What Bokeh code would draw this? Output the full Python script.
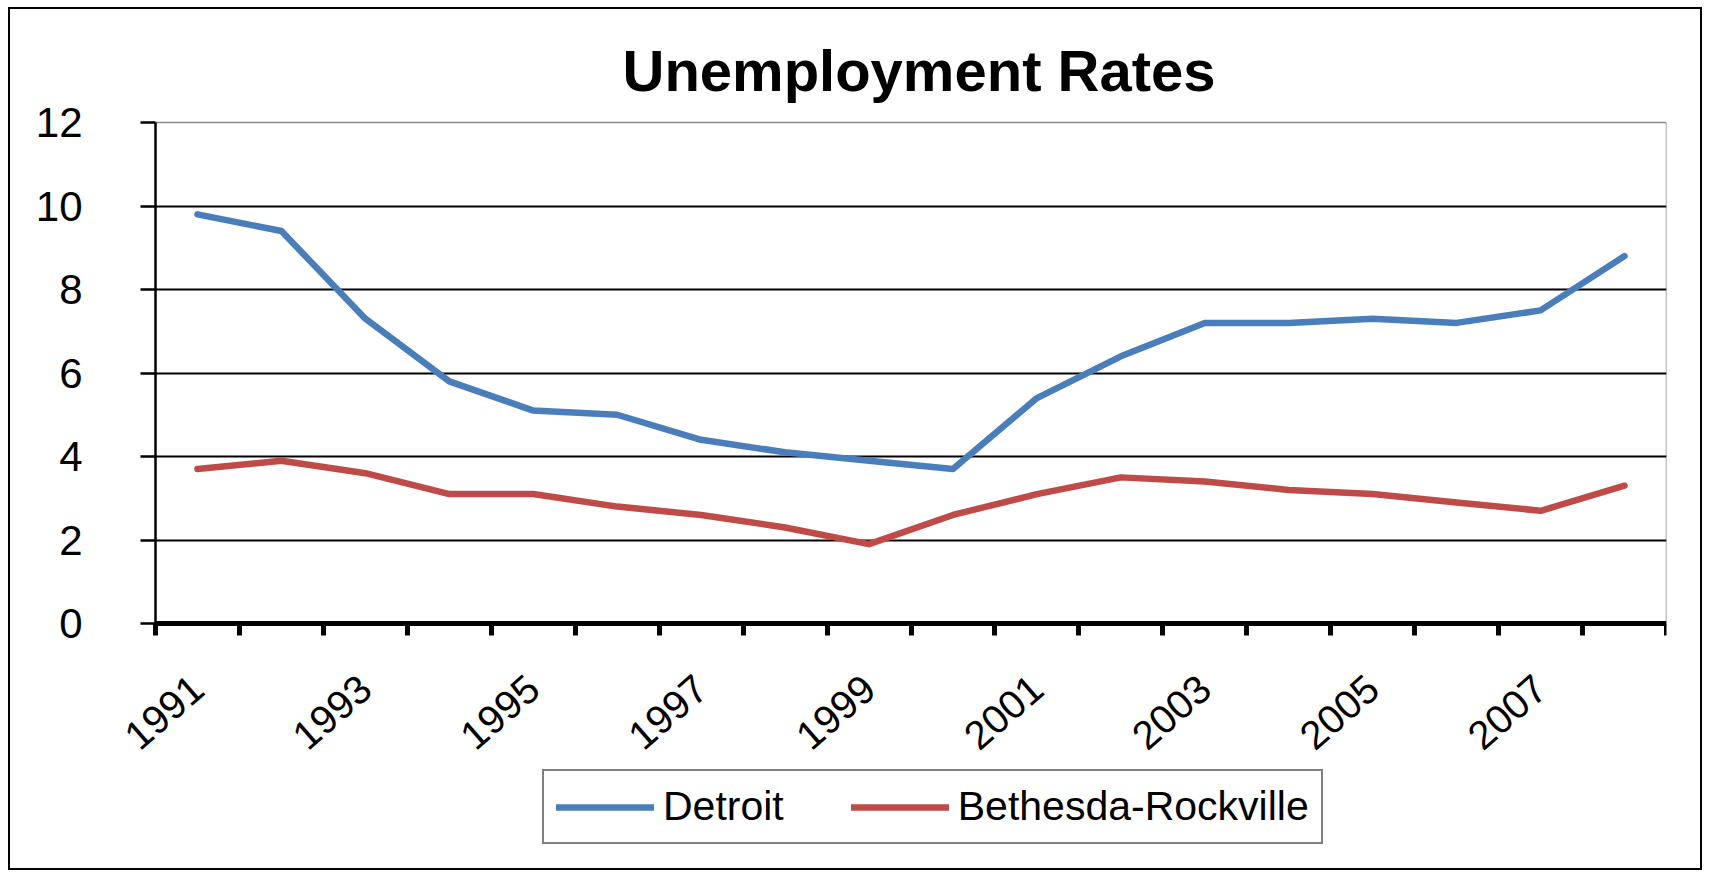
from bokeh.plotting import figure
from bokeh.models import Range1d, FixedTicker, Legend, LegendItem, LinearAxis
from bokeh.embed import file_html
from bokeh.resources import INLINE

# ---- data ----
years = list(range(1991, 2009))
detroit = [9.8, 9.4, 7.3, 5.8, 5.1, 5.0, 4.4, 4.1, 3.9, 3.7, 5.4, 6.4, 7.2, 7.2, 7.3, 7.2, 7.5, 8.8]
bethesda = [3.7, 3.9, 3.6, 3.1, 3.1, 2.8, 2.6, 2.3, 1.9, 2.6, 3.1, 3.5, 3.4, 3.2, 3.1, 2.9, 2.7, 3.3]
series_names = ["Detroit", "Bethesda-Rockville"]
y_ticks = [0, 2, 4, 6, 8, 10, 12]
x_label_years = [1991, 1993, 1995, 1997, 1999, 2001, 2003, 2005, 2007]
title_text = "Unemployment Rates"

FONT = "Liberation Sans"
BLUE = "#4A7EBB"
RED = "#BE4B48"

# ---- layout (pixels) ----
PLOT_W = 1511            # width of the charted area (1990.5 .. 2008.5)
LEFT_ROOM = 143          # room left of the y axis, kept inside the frame
TOP_ROOM = 20            # room above the 12 line, so its label is not clipped
FRAME_W = PLOT_W + LEFT_ROOM
FRAME_H = 746 + TOP_ROOM
PX_PER_UNIT = 41.75
PX_PER_YEAR = PLOT_W / len(years)

Y_MIN, Y_MAX = 0, 12
X_LO, X_HI = years[0] - 0.5, years[-1] + 0.5
x_start = X_LO - LEFT_ROOM / PX_PER_YEAR
y_top = Y_MAX + TOP_ROOM / PX_PER_UNIT
y_bottom = y_top - FRAME_H / PX_PER_UNIT

p = figure(frame_width=FRAME_W, frame_height=FRAME_H, output_backend="svg", toolbar_location=None,
           x_range=Range1d(x_start, X_HI), y_range=Range1d(y_bottom, y_top),
           min_border_left=2, min_border_right=34, min_border_top=113 - TOP_ROOM, min_border_bottom=0,
           background_fill_color="white", border_fill_color="white")
p.styles = {"border": "2px solid black", "margin-left": "8px", "margin-top": "7px"}

p.title.text = title_text
p.title.align = "left"
p.title.offset = 610
p.title.standoff = 0
p.title.text_font = FONT
p.title.text_font_size = "58px"
p.title.text_font_style = "bold"
p.title.text_color = "black"

r1 = p.line(years, detroit, line_color=BLUE, line_width=6.5, line_join="round", line_cap="round")
r2 = p.line(years, bethesda, line_color=RED, line_width=6.5, line_join="round", line_cap="round")

p.outline_line_color = None
p.xgrid.visible = False
p.ygrid.visible = False

# y axis, fixed at the left edge of the charted area
ya = p.yaxis[0]
ya.fixed_location = X_LO
ya.bounds = (Y_MIN, Y_MAX)
ya.ticker = FixedTicker(ticks=y_ticks, minor_ticks=[])
ya.axis_line_color = "black"
ya.axis_line_width = 2.5
ya.major_tick_out = 15
ya.major_tick_in = 0
ya.major_tick_line_width = 2.5
ya.major_tick_line_color = "black"
ya.minor_tick_line_color = None
ya.major_label_standoff = 58
ya.major_label_text_font = FONT
ya.major_label_text_font_size = "42px"
ya.major_label_text_color = "black"

# right-hand border of the plot area; its inward ticks draw the horizontal gridlines
ra = LinearAxis(bounds=(Y_MIN, Y_MAX),
                ticker=FixedTicker(ticks=[t for t in y_ticks if Y_MIN < t < Y_MAX], minor_ticks=[Y_MAX]),
                axis_line_color="#8c8c8c", axis_line_width=1.5,
                major_tick_in=PLOT_W, major_tick_out=0, major_tick_line_color="black", major_tick_line_width=2,
                minor_tick_in=PLOT_W, minor_tick_out=0, minor_tick_line_color="#8c8c8c", minor_tick_line_width=1.5,
                major_label_text_font_size="1px", major_label_text_alpha=0)
ra.level = "underlay"
p.add_layout(ra, "right")

# x axis (category-like: labels at centres, tick marks between years), sitting at y = 0
xa = p.xaxis[0]
xa.fixed_location = 0
xa.bounds = (X_LO, X_HI)
xa.ticker = FixedTicker(ticks=x_label_years, minor_ticks=[y - 0.5 for y in years] + [X_HI])
xa.axis_line_color = "black"
xa.axis_line_width = 5
xa.major_tick_out = 12
xa.major_tick_in = 0
xa.major_tick_line_color = None
xa.minor_tick_out = 12
xa.minor_tick_in = 0
xa.minor_tick_line_width = 5
xa.minor_tick_line_color = "black"
xa.major_label_orientation = 0.72
xa.major_label_standoff = 47
xa.major_label_text_font = FONT
xa.major_label_text_font_size = "40px"
xa.major_label_text_color = "black"

legend = Legend(items=[LegendItem(label=series_names[0], renderers=[r1]),
                       LegendItem(label=series_names[1], renderers=[r2])],
                orientation="horizontal", location=(530, 24),
                border_line_color="black", border_line_width=2,
                padding=12, spacing=67, glyph_width=98, label_standoff=9,
                label_text_font=FONT, label_text_font_size="41px", label_text_color="black",
                margin=0)
p.add_layout(legend)

open("out.html", "w").write(file_html(p, INLINE))
